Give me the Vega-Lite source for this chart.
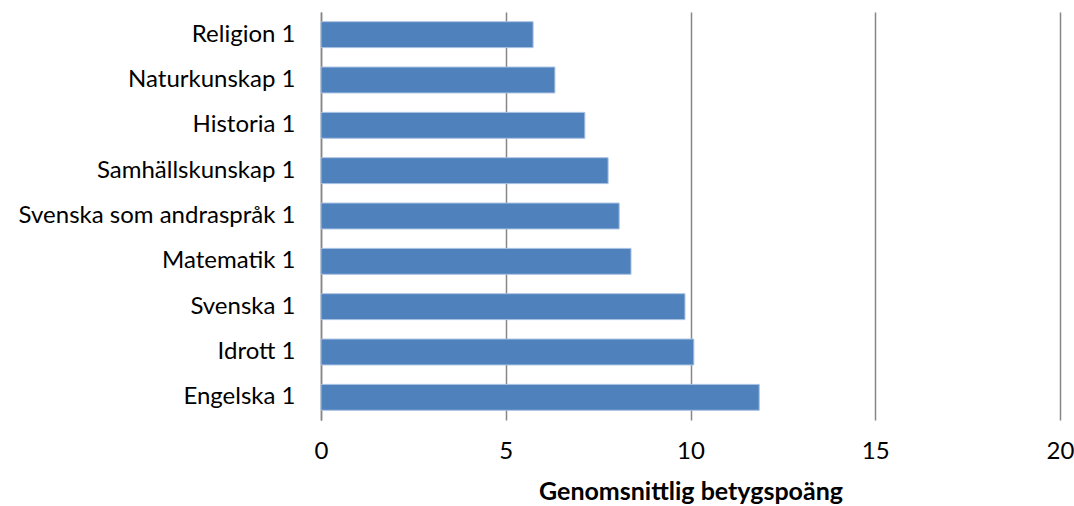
{
  "$schema": "https://vega.github.io/schema/vega-lite/v6.json",
  "autosize": "none",
  "width": 739,
  "height": 408,
  "padding": {"left": 321, "top": 12, "right": 14, "bottom": 86},
  "background": "white",
  "data": {
    "values": [
      {"kurs": "Religion 1", "poang": 5.74},
      {"kurs": "Naturkunskap 1", "poang": 6.33},
      {"kurs": "Historia 1", "poang": 7.14},
      {"kurs": "Samhällskunskap 1", "poang": 7.77},
      {"kurs": "Svenska som andraspråk 1", "poang": 8.07},
      {"kurs": "Matematik 1", "poang": 8.39},
      {"kurs": "Svenska 1", "poang": 9.85},
      {"kurs": "Idrott 1", "poang": 10.09},
      {"kurs": "Engelska 1", "poang": 11.86}
    ]
  },
  "config": {
    "view": {"stroke": null},
    "font": "Lato"
  },
  "mark": {"type": "bar", "color": "#4F81BD", "stroke": "#A7C1E2", "strokeWidth": 1},
  "encoding": {
    "y": {
      "field": "kurs",
      "type": "nominal",
      "sort": null,
      "scale": {"paddingInner": 0.4286, "paddingOuter": 0.2143},
      "axis": {
        "title": null,
        "labelFont": "Lato",
        "labelFontSize": 24,
        "labelColor": "#000000",
        "labelPadding": 26,
        "ticks": false,
        "domain": true,
        "domainColor": "#868686",
        "domainWidth": 1.5,
        "labelLimit": 400
      }
    },
    "x": {
      "field": "poang",
      "type": "quantitative",
      "scale": {"domain": [0, 20], "nice": false},
      "axis": {
        "values": [0, 5, 10, 15, 20],
        "title": "Genomsnittlig betygspoäng",
        "titleFont": "Lato",
        "titleFontSize": 25,
        "titleFontWeight": "bold",
        "titleColor": "#000000",
        "titlePadding": 16,
        "labelFont": "Lato",
        "labelFontSize": 24,
        "labelColor": "#000000",
        "labelPadding": 19,
        "labelFlush": false,
        "ticks": false,
        "domain": false,
        "grid": true,
        "gridColor": "#868686",
        "gridWidth": 1.5
      }
    }
  }
}
